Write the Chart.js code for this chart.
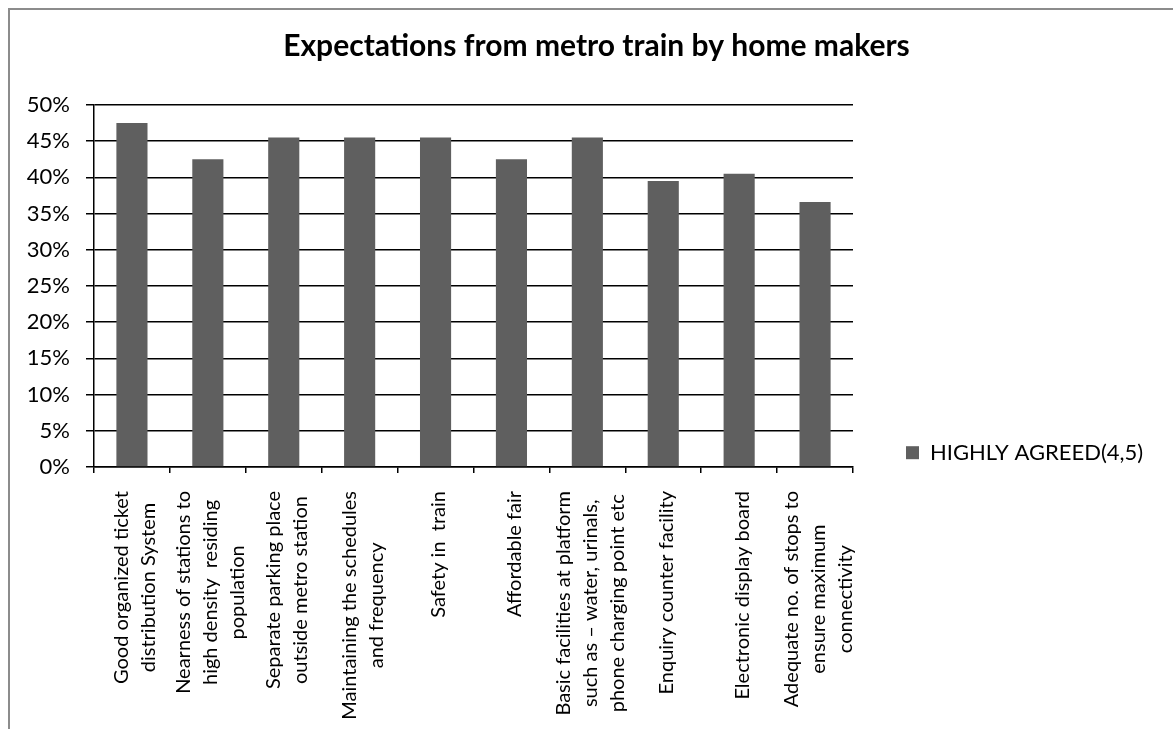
<!DOCTYPE html>
<html>
<head>
<meta charset="utf-8">
<script src="https://cdn.jsdelivr.net/npm/chart.js@4.4.1/dist/chart.umd.min.js"></script>
<style>
  html, body { margin: 0; padding: 0; background: #fff; overflow: hidden; }
  #wrap { position: relative; width: 1173px; height: 729px; }
  #frame { position: absolute; left: 8px; top: 8px; width: 1200px; height: 760px;
           border: 2px solid #8c8c8c; box-sizing: border-box; pointer-events: none; }
</style>
</head>
<body>
<div id="wrap">
  <canvas id="chart" width="1173" height="729"></canvas>
  <div id="frame"></div>
</div>
<script>
// Podaci procitani sa slike
const chartTitle = 'Expectations from metro train by home makers';
const seriesName = 'HIGHLY AGREED(4,5)';
const categories = [
    ['Good organized ticket', 'distribution System'],
    ['Nearness of stations to', 'high density  residing', 'population'],
    ['Separate parking place', 'outside metro station'],
    ['Maintaining the schedules', 'and frequency'],
    ['Safety in  train'],
    ['Affordable fair'],
    ['Basic facilities at platform', 'such as \u2013 water, urinals,', 'phone charging point etc'],
    ['Enquiry counter facility'],
    ['Electronic display board'],
    ['Adequate no. of stops to', 'ensure maximum', 'connectivity']
];
const highlyAgreed = [47.5, 42.5, 45.5, 45.5, 45.5, 42.5, 45.5, 39.5, 40.5, 36.6];
const yMin = 0;
const yMax = 50;
const yStep = 5;

const LABEL_FONT = '20px Lato';
const LINE_GAP = 27;
const LEGEND_WIDTH = 320;

// Kategorije se crtaju centrirano, kao u Excelu (Chart.js ih poravnava desno)
const centeredLabels = {
    id: 'centeredLabels',
    afterDraw(chart) {
        const xs = chart.scales.x;
        const ctx = chart.ctx;
        ctx.save();
        ctx.font = LABEL_FONT;
        ctx.fillStyle = '#000';
        ctx.textAlign = 'center';
        ctx.textBaseline = 'middle';
        categories.forEach((lines, i) => {
            const x = xs.getPixelForTick(i);
            const widest = Math.max(...lines.map(l => ctx.measureText(l).width));
            const cy = xs.top + 24 + widest / 2;
            lines.forEach((line, j) => {
                const dx = (j - (lines.length - 1) / 2) * LINE_GAP + 3;
                ctx.save();
                ctx.translate(x + dx, cy);
                ctx.rotate(-Math.PI / 2);
                ctx.fillText(line, 0, 0);
                ctx.restore();
            });
        });
        ctx.restore();
    }
};

// Legenda je sira od polovine slobodnog prostora koju joj Chart.js dozvoljava
const wideLegend = {
    id: 'wideLegend',
    afterInit(chart) {
        const legend = chart.legend;
        if (!legend) return;
        const fit = legend.fit.bind(legend);
        legend.fit = function () {
            fit();
            this.width = LEGEND_WIDTH;
        };
    }
};

const ctx = document.getElementById('chart').getContext('2d');
window.expectationsChart = new Chart(ctx, {
    type: 'bar',
    data: {
        labels: categories,
        datasets: [{
            label: seriesName,
            data: highlyAgreed,
            backgroundColor: '#5f5f5f',
            borderWidth: 0,
            barPercentage: 0.41,
            categoryPercentage: 1.0
        }]
    },
    options: {
        responsive: false,
        animation: false,
        events: [],
        layout: { padding: { top: 0, right: 0, bottom: 0, left: 20 } },
        scales: {
            x: {
                afterFit(scale) { scale.height = 262; },
                border: { display: true, color: '#000', width: 1.5 },
                grid: { display: true, drawOnChartArea: false, drawTicks: true, tickLength: 6, color: '#000', lineWidth: 1.5, offset: true },
                ticks: { display: false }
            },
            y: {
                min: yMin,
                max: yMax,
                afterFit(scale) { scale.width = 74; },
                border: { display: true, color: '#000', width: 1.5 },
                grid: { color: '#000', lineWidth: 1.5, tickLength: 8 },
                ticks: {
                    stepSize: yStep,
                    padding: 16,
                    color: '#000',
                    font: { family: 'Lato', size: 22 },
                    callback: v => v + '%'
                }
            }
        },
        plugins: {
            title: {
                display: true,
                text: chartTitle,
                color: '#000',
                font: { family: 'Lato', size: 30, weight: 'bold' },
                padding: { top: 28, bottom: 41 }
            },
            legend: {
                position: 'right',
                align: 'center',
                title: { display: true, text: '', padding: { top: 162 } },
                labels: {
                    boxWidth: 13,
                    boxHeight: 13,
                    padding: 53,
                    color: '#000',
                    font: { family: 'Lato', size: 22 }
                }
            },
            tooltip: { enabled: false }
        }
    },
    plugins: [centeredLabels, wideLegend]
});
</script>
</body>
</html>
